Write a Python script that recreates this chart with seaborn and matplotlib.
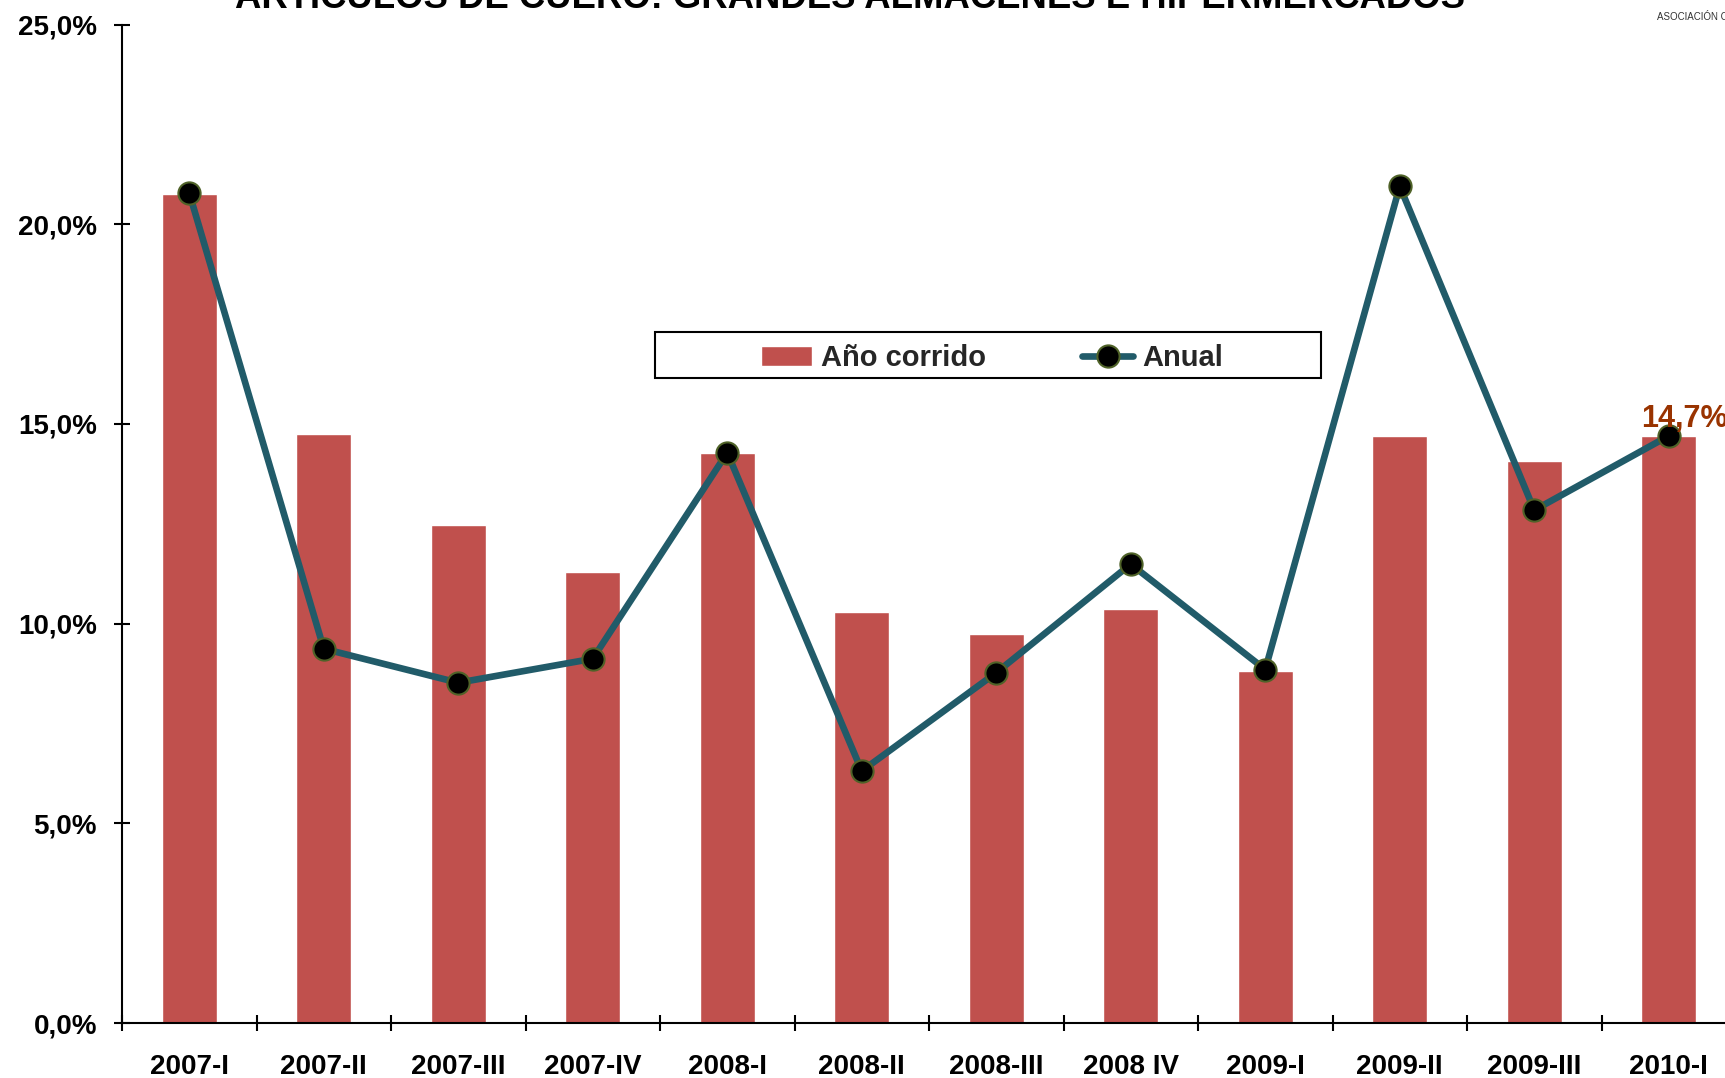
import numpy as np
import pandas as pd
import matplotlib
matplotlib.use("Agg")
import matplotlib.pyplot as plt
import matplotlib.ticker as mticker
from matplotlib.patches import Rectangle
import seaborn as sns

# ---- data ----
periodos = ["2007-I", "2007-II", "2007-III", "2007-IV", "2008-I", "2008-II",
            "2008-III", "2008 IV", "2009-I", "2009-II", "2009-III", "2010-I"]
ano_corrido = [20.75, 14.75, 12.46, 11.30, 14.28, 10.28, 9.73, 10.36, 8.82, 14.69, 14.06, 14.7]
anual = [20.78, 9.37, 8.52, 9.12, 14.28, 6.31, 8.77, 11.49, 8.85, 20.95, 12.84, 14.7]
y_ticks = [0, 5, 10, 15, 20, 25]
titulo = "ARTÍCULOS DE CUERO: GRANDES ALMACENES E HIPERMERCADOS"
etiqueta_final = "14,7%"
serie_barras = "Año corrido"
serie_linea = "Anual"

df = pd.DataFrame({"periodo": periodos, "ano_corrido": ano_corrido, "anual": anual})

sns.set_theme(style="white")
plt.rcParams["font.family"] = ["Liberation Sans", "DejaVu Sans"]
plt.rcParams["font.weight"] = "bold"

W, H = 1725, 1078
fig = plt.figure(figsize=(W / 100, H / 100), dpi=100)
fig.patch.set_facecolor("white")

ax_left, ax_right_px, ax_top, ax_bottom = 122, 122 + 1614, 24.5, 1023
ax = fig.add_axes([ax_left / W, 1 - ax_bottom / H, (ax_right_px - ax_left) / W, (ax_bottom - ax_top) / H])
ax.set_facecolor("white")

BAR_COLOR = "#C0504D"
LINE_COLOR = "#215B69"
EDGE_COLOR = "#4F6228"

sns.barplot(data=df, x="periodo", y="ano_corrido", color=BAR_COLOR, saturation=1,
            width=0.41, ax=ax, label=serie_barras, zorder=2)
sns.pointplot(data=df, x="periodo", y="anual", color=LINE_COLOR, ax=ax, label=serie_linea,
              errorbar=None, markers="o", linewidth=4.8, markersize=16,
              markerfacecolor="black", markeredgecolor=EDGE_COLOR, markeredgewidth=1.5)
line = ax.lines[-1]
line.set_markerfacecolor("black")
line.set_markeredgecolor(EDGE_COLOR)
line.set_markeredgewidth(1.5)
line.set_zorder(4)

ax.set_xlim(-0.5, len(periodos) - 0.5)
ax.set_ylim(0, 25)
ax.set_xlabel("")
ax.set_ylabel("")

for s in ["top", "right"]:
    ax.spines[s].set_visible(False)
for s in ["left", "bottom"]:
    ax.spines[s].set_color("black")
    ax.spines[s].set_linewidth(1.5)
    ax.spines[s].set_zorder(5)

ax.set_yticks(y_ticks)
ax.yaxis.set_major_formatter(mticker.FuncFormatter(lambda v, p: f"{v:.1f}%".replace(".", ",")))
ax.tick_params(axis="y", direction="inout", length=12, width=1.5, color="black",
               labelsize=20, pad=12, left=True, labelcolor="black")
ax.tick_params(axis="x", which="major", length=0, labelsize=20, pad=22, labelcolor="black")
ax.set_xticks(np.arange(-0.5, len(periodos)), minor=True)
ax.tick_params(axis="x", which="minor", direction="inout", length=12, width=1.5,
               color="black", bottom=True)
for lab in ax.get_xticklabels() + ax.get_yticklabels():
    lab.set_fontweight("bold")
ax.grid(False)

# value label for last point
ax.annotate(etiqueta_final, xy=(len(periodos) - 1, anual[-1]), xytext=(-20, 6.5),
            textcoords="offset points", ha="left", va="baseline",
            fontsize=22, fontweight="bold", color="#993300", zorder=6)

# legend
if ax.legend_ is not None:
    ax.legend_.remove()
handles, labels = ax.get_legend_handles_labels()
order = [labels.index(serie_barras), labels.index(serie_linea)]
handles = [handles[i] for i in order]
labels = [labels[i] for i in order]
leg_box = (654.5, 332, 1321, 378)
fig.patches.append(Rectangle((leg_box[0] / W, 1 - leg_box[3] / H),
                             (leg_box[2] - leg_box[0]) / W, (leg_box[3] - leg_box[1]) / H,
                             transform=fig.transFigure, facecolor="white",
                             edgecolor="black", linewidth=1.5, zorder=10))
leg = fig.legend(handles, labels, loc="center", bbox_to_anchor=(992 / W, 1 - 358 / H),
                 ncol=2, frameon=False, fontsize=21, handlelength=1.75,
                 handletextpad=0.3, columnspacing=3.3, borderpad=0)
leg.set_zorder(11)
for t in leg.get_texts():
    t.set_fontweight("bold")

# title (cut off at top in the original)
fig.text(850 / W, 1 - 8 / H, titulo, ha="center", va="baseline",
         fontsize=26.3, fontweight="bold", color="black")
fig.text(1657 / W, 1 - 20 / H, "ASOCIACIÓN COLOMBIANA", ha="left", va="baseline",
         fontsize=7, fontweight="normal", color="#333333")

fig.savefig("out.png", dpi=100, facecolor="white")
